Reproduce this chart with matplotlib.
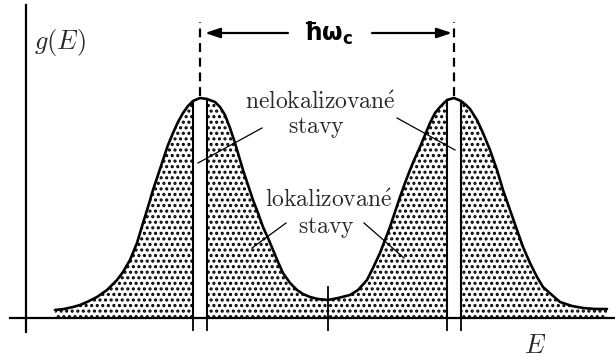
import matplotlib.pyplot as plt
import numpy as np

# density of states g(E) (E and g in drawing units)
energy = [55, 64, 73, 80, 87, 97, 107, 117, 123, 130, 137, 143, 148, 153, 158,
          163, 168, 173, 178, 183, 188, 193, 200, 207, 215, 220, 225, 230, 235,
          243, 248, 253, 258, 263, 268, 273, 278, 283, 290, 297, 303, 310, 318,
          328, 338, 350, 358, 367, 373, 380, 385, 390, 395, 400, 405, 410, 415,
          420, 425, 430, 435, 440, 447, 454, 461, 466, 470, 477, 483, 490, 497,
          503, 510, 517, 523, 530, 537, 543, 552, 560, 572, 583, 595, 607]
dos = [8, 9, 11, 13, 16, 21, 28, 38, 46, 58, 75, 95, 111, 128, 143,
       158, 173, 185, 196, 205, 212, 217, 220, 219, 216, 211, 203, 190, 175,
       148, 133, 118, 105, 91, 80, 68, 56, 45, 35, 28, 24, 21, 19,
       18, 20, 23, 28, 38, 50, 65, 78, 91, 106, 121, 135, 148, 160,
       171, 183, 195, 205, 211, 218, 220, 217, 213, 209, 198, 185, 168, 148,
       128, 108, 88, 71, 55, 41, 31, 23, 16, 12, 10, 9, 9]

peak_centers = [200, 454]          # Landau levels, spaced by hbar*omega_c
strip_edges = [(193, 207), (447, 461)]   # narrow bands of extended states
mid_energy = 328
y_axis_pos = 26

energy = np.array(energy)
dos = np.array(dos)

plt.rcParams['hatch.linewidth'] = 1.5

fig = plt.figure(figsize=(6.15, 3.58), dpi=100)
ax = fig.add_axes([0, 0, 1, 1])
ax.set_xlim(0, 615)
ax.set_ylim(-40, 318)

# stippled localized states, leaving the extended-state strips white
in_strip = np.zeros(len(energy), dtype=bool)
for lo, hi in strip_edges:
    in_strip |= (energy > lo) & (energy < hi)
ax.fill_between(energy, 0, dos, where=~in_strip, facecolor='white',
                edgecolor='black', hatch='...', linewidth=0, interpolate=False)

ax.plot(energy, dos, color='black', lw=1.9, solid_capstyle='round',
        solid_joinstyle='round')

for lo, hi in strip_edges:
    for e in (lo, hi):
        g = dos[energy == e][0]
        ax.plot([e, e], [0, g], color='black', lw=1.5)

# axes
for s in ['top', 'right']:
    ax.spines[s].set_visible(False)
ax.spines['left'].set_position(('data', y_axis_pos))
ax.spines['left'].set_bounds(-14, 313)
ax.spines['left'].set_linewidth(1.6)
ax.spines['bottom'].set_position(('data', 0))
ax.spines['bottom'].set_bounds(10, 615)
ax.spines['bottom'].set_linewidth(1.6)
ax.set_yticks([])
ax.set_xticks([e for pair in strip_edges for e in pair] + [mid_energy])
ax.set_xticklabels([])
ax.tick_params(axis='x', direction='out', length=9, width=1.3, color='black')
ax.plot([mid_energy, mid_energy], [0, 31], color='black', lw=1.3)

# dashed markers and the hbar*omega_c spacing arrow
for c in peak_centers:
    ax.plot([c, c], [222, 296], color='black', lw=1.6, linestyle=(0, (4, 2.6)))
arrow_y = 285
label_x = (peak_centers[0] + peak_centers[1]) / 2 + 1
ax.annotate('', xy=(peak_centers[0] + 5, arrow_y), xytext=(label_x - 40, arrow_y),
            arrowprops=dict(arrowstyle='-|>,head_length=0.9,head_width=0.3',
                            color='black', lw=1.6, shrinkA=0, shrinkB=0))
ax.annotate('', xy=(peak_centers[1] - 2, arrow_y), xytext=(label_x + 44, arrow_y),
            arrowprops=dict(arrowstyle='-|>,head_length=0.9,head_width=0.3',
                            color='black', lw=1.6, shrinkA=0, shrinkB=0))
ax.text(label_x, arrow_y, 'ħω$_{\\mathbf{c}}$', fontsize=17, fontweight='bold',
        ha='center', va='center', math_fontfamily='dejavusans')

# labels
tx = dict(fontsize=17, color='#2a2a2a', math_fontfamily='cm')
ax.text(34, 276, r'$g(E)$', ha='left', va='center',
        **{**tx, 'fontsize': 19})
ax.text(535, -28, r'$E$', ha='center', va='center', **{**tx, 'fontsize': 19})
ax.text(320, 216, r'$\mathrm{nelokalizovan\acute{e}}$', ha='center', va='center', **tx)
ax.text(316, 191, r'$\mathrm{stavy}$', ha='center', va='center', **tx)
ax.text(329, 118, r'$\mathrm{lokalizovan\acute{e}}$', ha='center', va='center', **tx)
ax.text(326, 91, r'$\mathrm{stavy}$', ha='center', va='center', **tx)

# pointer lines
pointers = [((262, 190), (198, 155)), ((397, 200), (455, 168)),
            ((286, 95), (252, 70)), ((364, 95), (404, 60))]
for (x0, y0), (x1, y1) in pointers:
    ax.plot([x0, x1], [y0, y1], color='black', lw=0.9)

fig.savefig('out.png', dpi=100)
